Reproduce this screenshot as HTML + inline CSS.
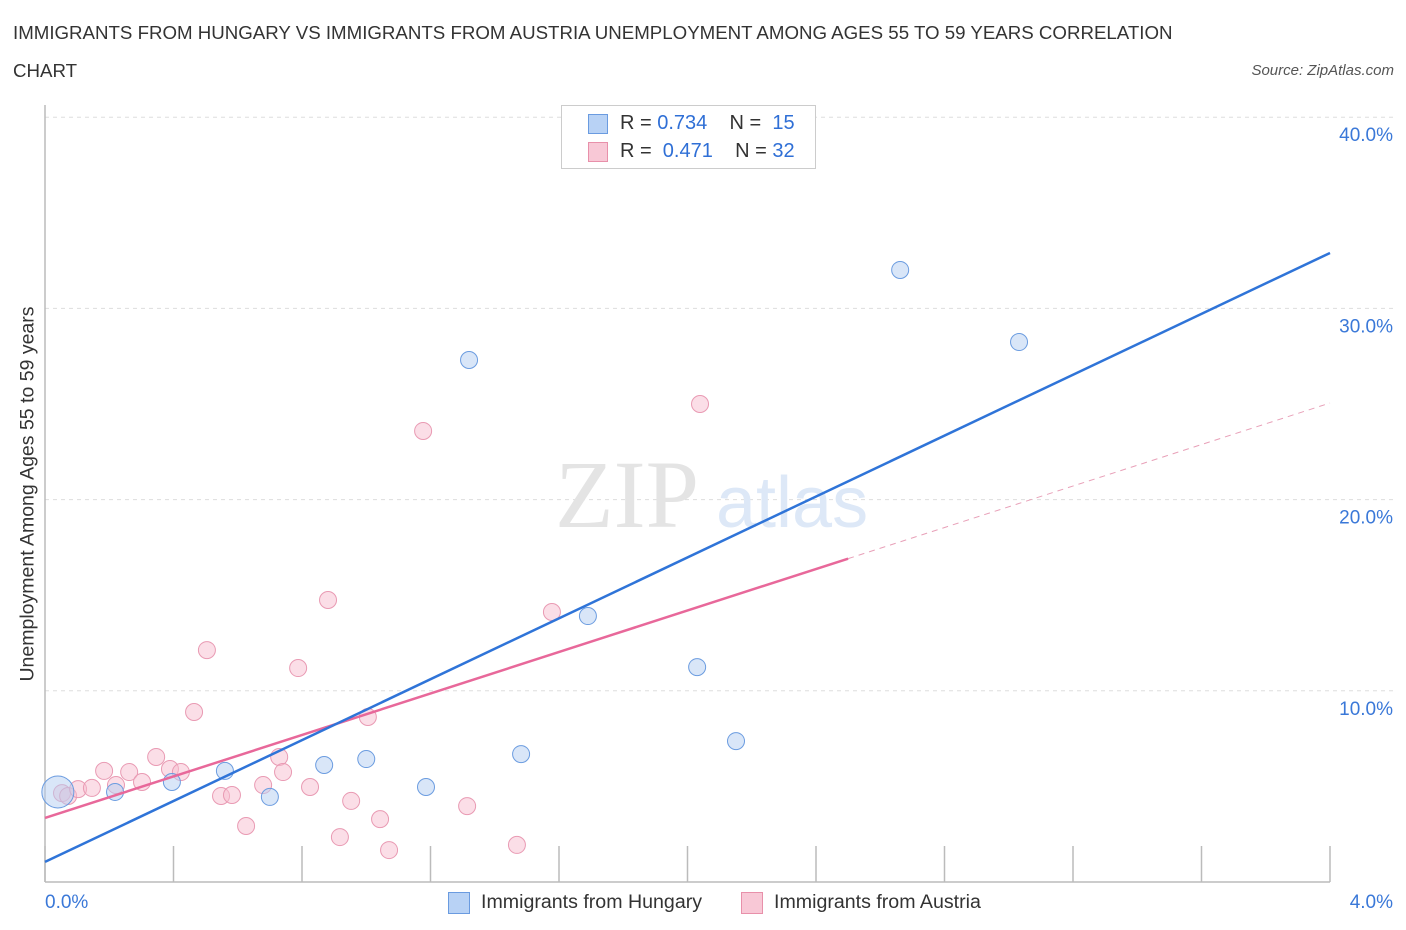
<!DOCTYPE html>
<html><head><meta charset="utf-8"><style>
body{margin:0;background:#fff;font-family:"Liberation Sans",sans-serif;}
#wrap{position:relative;width:1406px;height:930px;overflow:hidden;}
.t{position:absolute;white-space:nowrap;}
</style></head><body><div id="wrap">
<div class="t" style="left:13px;top:14px;font-size:18.7px;color:#333;line-height:38px;">IMMIGRANTS FROM HUNGARY VS IMMIGRANTS FROM AUSTRIA UNEMPLOYMENT AMONG AGES 55 TO 59 YEARS CORRELATION<br>CHART</div>
<div class="t" style="right:12px;top:62px;font-size:15px;font-style:italic;color:#555;">Source: ZipAtlas.com</div>
<svg id="svg" width="1406" height="930" style="position:absolute;left:0;top:0"></svg>
<div class="t" style="left:28px;top:494px;font-size:19.5px;color:#333;transform:translate(-50%,-50%) rotate(-90deg);">Unemployment Among Ages 55 to 59 years</div>
<div style="position:absolute;left:561px;top:105px;width:253px;height:62px;border:1px solid #ccc;background:#fff;font-size:20px;color:#333;">
<div style="position:absolute;left:26px;top:8px;width:18px;height:18px;background:#b8d2f5;border:1px solid #6a9be0;"></div>
<div class="t" style="left:58px;top:6px;">R = <span style="color:#2f6fd6">0.734</span>&nbsp;&nbsp;&nbsp; N = &nbsp;<span style="color:#2f6fd6">15</span></div>
<div style="position:absolute;left:26px;top:36px;width:18px;height:18px;background:#f8c8d6;border:1px solid #e890aa;"></div>
<div class="t" style="left:58px;top:34px;">R = &nbsp;<span style="color:#2f6fd6">0.471</span>&nbsp;&nbsp;&nbsp; N = <span style="color:#2f6fd6">32</span></div>
</div>
<div style="position:absolute;left:448px;top:891px;font-size:19.6px;color:#333;">
<div style="position:absolute;left:0;top:1px;width:20px;height:20px;background:#b8d2f5;border:1px solid #6a9be0;"></div><span class="t" style="left:33px;top:0">Immigrants from Hungary</span></div>
<div style="position:absolute;left:741px;top:891px;font-size:19.6px;color:#333;">
<div style="position:absolute;left:0;top:1px;width:20px;height:20px;background:#f8c8d6;border:1px solid #e890aa;"></div><span class="t" style="left:33px;top:0">Immigrants from Austria</span></div>
</div>
<script>
const hungaryX=[0.04,0.218,0.395,0.56,0.70,0.869,1.0,1.186,1.32,1.482,1.69,2.03,2.151,2.662,3.032];
const hungaryY=[4.71,4.71,5.23,5.81,4.45,6.12,6.43,4.97,27.3,6.69,13.91,11.24,7.37,32.01,28.24];
const austriaX=[0.053,0.072,0.103,0.146,0.184,0.221,0.262,0.302,0.346,0.389,0.423,0.464,0.504,0.548,0.582,0.626,0.679,0.729,0.741,0.788,0.825,0.881,0.918,0.953,1.005,1.043,1.071,1.177,1.314,1.469,1.578,2.039];
const austriaY=[4.65,4.5,4.86,4.92,5.81,5.07,5.75,5.23,6.54,5.91,5.75,8.89,12.13,4.5,4.55,2.93,5.07,6.54,5.75,11.19,4.97,14.75,2.35,4.24,8.63,3.29,1.67,23.59,3.97,1.94,14.12,25.0];
const yTicks=[10,20,30,40];
const hungaryTrend=[1.05,32.9];
const austriaTrend=[3.35,25.05];
const austriaSolidEnd=2.5;
const X=v=>45+v/4*1285, Y=v=>882-v*19.12;
const s=document.getElementById('svg'),NS='http://www.w3.org/2000/svg';
function mk(t,a,n){const e=document.createElementNS(NS,t);for(const k in a)e.setAttribute(k,a[k]);


s.appendChild(e);return e;}
yTicks.forEach(v=>{mk('line',{x1:45,x2:1393,y1:Y(v),y2:Y(v),stroke:'#ddd','stroke-dasharray':'4,4'},'gridline');
const t=mk('text',{x:1393,y:Y(v)+24,'text-anchor':'end','font-size':19,fill:'#3a78d8','font-family':'Liberation Sans'},'y-tick-label');t.textContent=v.toFixed(1)+'%';});
for(let i=0;i<=10;i++){const x=X(i*0.4);mk('line',{x1:x,x2:x,y1:846,y2:882,stroke:'#bbb','stroke-width':1.5},'x-tick');}
mk('line',{x1:45,x2:45,y1:105,y2:882,stroke:'#bbb','stroke-width':1.5},'y-axis');
mk('line',{x1:45,x2:1330,y1:882,y2:882,stroke:'#bbb','stroke-width':1.5},'x-axis');
let t=mk('text',{x:45,y:908,'font-size':19,fill:'#3a78d8','font-family':'Liberation Sans'},'x-tick-label');t.textContent='0.0%';
t=mk('text',{x:1393,y:908,'text-anchor':'end','font-size':19,fill:'#3a78d8','font-family':'Liberation Sans'},'x-tick-label');t.textContent='4.0%';
t=mk('text',{x:555,y:527,'font-size':96,fill:'#e4e4e4','font-family':'Liberation Serif'},'watermark-zip');t.textContent='ZIP';
t=mk('text',{x:716,y:527,'font-size':72,fill:'#dde8f7','font-family':'Liberation Sans'},'watermark-atlas');t.textContent='atlas';
austriaX.forEach((x,i)=>mk('circle',{cx:X(x),cy:Y(austriaY[i]),r:8.5,fill:'rgba(248,190,208,0.5)',stroke:'#e99ab3','stroke-width':1},'austria-point'));
hungaryX.forEach((x,i)=>mk('circle',{cx:X(x),cy:Y(hungaryY[i]),r:i==0?16:8.5,fill:'rgba(180,205,242,0.5)',stroke:'#6b9ce0','stroke-width':1},'hungary-point'));
const ay=x=>austriaTrend[0]+(austriaTrend[1]-austriaTrend[0])*x/4;
mk('line',{x1:X(0),y1:Y(ay(0)),x2:X(austriaSolidEnd),y2:Y(ay(austriaSolidEnd)),stroke:'#e8689a','stroke-width':2.5},'austria-trendline');
mk('line',{x1:X(austriaSolidEnd),y1:Y(ay(austriaSolidEnd)),x2:X(4),y2:Y(ay(4)),stroke:'#e8a0b8','stroke-width':1,'stroke-dasharray':'6,5'},'austria-trend-extension');
mk('line',{x1:X(0),y1:Y(hungaryTrend[0]),x2:X(4),y2:Y(hungaryTrend[1]),stroke:'#2f74d8','stroke-width':2.5},'hungary-trendline');
</script></body></html>
